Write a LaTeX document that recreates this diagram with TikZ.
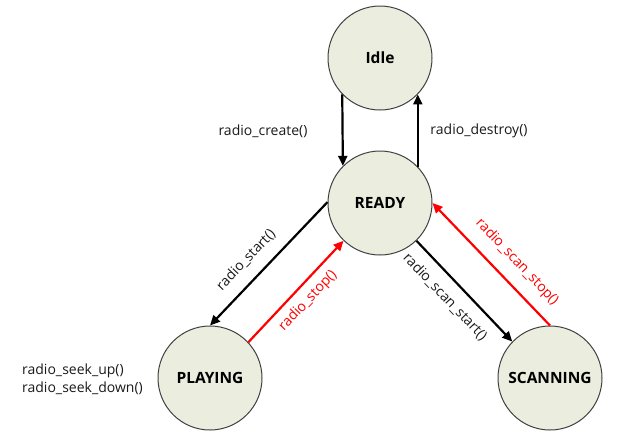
\documentclass[tikz,border=0pt]{standalone}
\usepackage{fontspec}
\setmainfont{Open Sans}
\usetikzlibrary{arrows.meta}
\definecolor{statefill}{HTML}{EBEDDE}
\definecolor{stateedge}{HTML}{404040}
\definecolor{textcol}{HTML}{1A1A1A}
\tikzset{
  state/.style={circle, draw=stateedge, fill=statefill, line width=1pt,
    minimum size=104pt, inner sep=0pt, font=\fontsize{15.5}{18}\selectfont\bfseries, text=black},
  trans/.style={line width=2.2pt, -{Triangle[length=10pt,width=9pt]}},
  blacktrans/.style={trans, draw=black},
  redtrans/.style={trans, draw=red},
  lbl/.style={font=\fontsize{14}{17}\selectfont, inner sep=0pt, text=textcol},
  redlbl/.style={lbl, text=red}
}
\begin{document}
\begin{tikzpicture}[x=1pt,y=-1pt]
\useasboundingbox (0,0) rectangle (624,437);
\node[state] (idle) at (380,58) {Idle};
\node[state] (ready) at (380,203) {READY};
\node[state] (playing) at (210,378) {PLAYING};
\node[state] (scanning) at (550,378) {SCANNING};

\draw[blacktrans] (idle.224.6) -- (ready.135.4);
\draw[blacktrans] (ready.44.6) -- (idle.-44.6);
\draw[blacktrans] (ready.179) -- (playing.90);
\draw[redtrans] (playing.43) -- (ready.226.5);
\draw[blacktrans] (ready.314) -- (scanning.136);
\draw[redtrans] (scanning.90) -- (ready.0);

\node[lbl] (lcreate) at (263,131) {radio\_create()};
\node[lbl] (ldestroy) at (479,131) {radio\_destroy()};
\node[lbl, rotate=46.4] (lstart) at (246,260) {radio\_start()};
\node[redlbl, rotate=46.5] (lstop) at (308,301) {radio\_stop()};
\node[lbl, rotate=-46.4] (lscanstart) at (445,297) {radio\_scan\_start()};
\node[redlbl, rotate=-46.4] (lscanstop) at (517,262) {radio\_scan\_stop()};
\node[lbl, align=left, anchor=west, font=\fontsize{14}{18}\selectfont] (lseek) at (22,379) {radio\_seek\_up()\\radio\_seek\_down()};
\end{tikzpicture}
\end{document}
